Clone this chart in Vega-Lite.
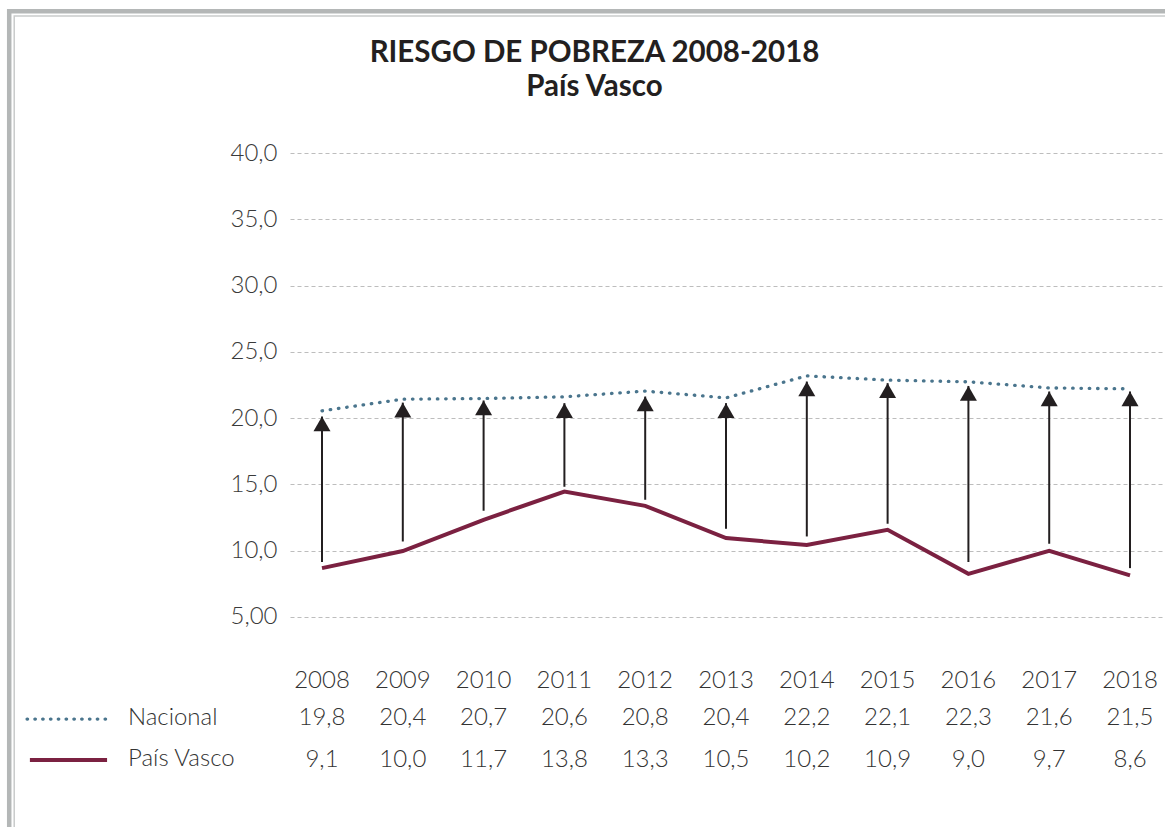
{
  "$schema": "https://vega.github.io/schema/vega-lite/v6.json",
  "autosize": "none",
  "width": 875,
  "height": 636,
  "padding": {"left": 290, "top": 153, "right": 0, "bottom": 38},
  "background": "white",
  "title": {
    "text": ["RIESGO DE POBREZA 2008-2018", "País Vasco"],
    "anchor": "middle",
    "dx": -133,
    "offset": -93,
    "font": "Lato",
    "fontSize": 29.5,
    "fontWeight": "bold",
    "color": "#231f20",
    "lineHeight": 34
  },
  "config": {
    "view": {"stroke": null},
    "font": "Lato"
  },
  "data": {
    "values": [
      {"year": 2008, "nac": 20.54, "pv": 8.67, "a_from": 9.13, "a_to": 20.11, "nac_t": "19,8", "pv_t": "9,1"},
      {"year": 2009, "nac": 21.42, "pv": 9.96, "a_from": 10.68, "a_to": 21.16, "nac_t": "20,4", "pv_t": "10,0"},
      {"year": 2010, "nac": 21.47, "pv": 12.32, "a_from": 13.0, "a_to": 21.32, "nac_t": "20,7", "pv_t": "11,7"},
      {"year": 2011, "nac": 21.6, "pv": 14.45, "a_from": 14.81, "a_to": 21.12, "nac_t": "20,6", "pv_t": "13,8"},
      {"year": 2012, "nac": 22.03, "pv": 13.37, "a_from": 13.83, "a_to": 21.62, "nac_t": "20,8", "pv_t": "13,3"},
      {"year": 2013, "nac": 21.52, "pv": 10.94, "a_from": 11.64, "a_to": 21.12, "nac_t": "20,4", "pv_t": "10,5"},
      {"year": 2014, "nac": 23.18, "pv": 10.41, "a_from": 11.06, "a_to": 22.75, "nac_t": "22,2", "pv_t": "10,2"},
      {"year": 2015, "nac": 22.86, "pv": 11.56, "a_from": 12.02, "a_to": 22.63, "nac_t": "22,1", "pv_t": "10,9"},
      {"year": 2016, "nac": 22.73, "pv": 8.24, "a_from": 9.13, "a_to": 22.42, "nac_t": "22,3", "pv_t": "9,0"},
      {"year": 2017, "nac": 22.27, "pv": 9.98, "a_from": 10.51, "a_to": 22.0, "nac_t": "21,6", "pv_t": "9,7"},
      {"year": 2018, "nac": 22.2, "pv": 8.12, "a_from": 8.67, "a_to": 22.0, "nac_t": "21,5", "pv_t": "8,6"}
    ]
  },
  "layer": [
    {
      "transform": [{"filter": "datum.year == 2008"}],
      "mark": {"type": "rect", "fillOpacity": 0, "stroke": "#b4b7b7", "strokeWidth": 4.5, "clip": false},
      "encoding": {
        "x": {"datum": 2004.129, "type": "quantitative", "scale": {"domain": [2007.604, 2018.433], "nice": false, "zero": false}, "axis": null},
        "x2": {"datum": 2022},
        "y": {"datum": 50.69, "type": "quantitative", "scale": {"domain": [-8, 40], "nice": false, "zero": false},
          "axis": {
            "values": [5, 10, 15, 20, 25, 30, 35, 40],
            "title": null,
            "domain": false,
            "ticks": false,
            "labelPadding": 13,
            "labelFont": "Lato",
            "labelFontSize": 24,
            "labelFontWeight": 300,
            "labelColor": "#3a3a3a",
            "labelExpr": "datum.value == 5 ? '5,00' : replace(format(datum.value, '.1f'), '.', ',')",
            "grid": true,
            "gridColor": "#bdbdbd",
            "gridDash": [4, 3],
            "gridWidth": 1
          }
        },
        "y2": {"datum": -30}
      }
    },
    {
      "transform": [{"filter": "datum.year == 2008"}],
      "mark": {"type": "rect", "fillOpacity": 0, "stroke": "#c9cbcb", "strokeWidth": 1.5, "clip": false},
      "encoding": {
        "x": {"datum": 2004.191, "type": "quantitative"},
        "x2": {"datum": 2022},
        "y": {"datum": 50.34, "type": "quantitative"},
        "y2": {"datum": -30}
      }
    },
    {
      "mark": {"type": "line", "color": "#7b2141", "strokeWidth": 4},
      "encoding": {
        "x": {"field": "year", "type": "quantitative"},
        "y": {"field": "pv", "type": "quantitative"}
      }
    },
    {
      "mark": {"type": "line", "color": "#4a758d", "strokeWidth": 3.3, "strokeDash": [0.5, 7.8], "strokeCap": "round"},
      "encoding": {
        "x": {"field": "year", "type": "quantitative"},
        "y": {"field": "nac", "type": "quantitative"}
      }
    },
    {
      "mark": {"type": "rule", "color": "#231f20", "strokeWidth": 2},
      "encoding": {
        "x": {"field": "year", "type": "quantitative"},
        "y": {"field": "a_from", "type": "quantitative"},
        "y2": {"field": "a_to"}
      }
    },
    {
      "mark": {"type": "point", "shape": "triangle-up", "filled": true, "size": 289, "color": "#231f20", "opacity": 1, "yOffset": 7.4},
      "encoding": {
        "x": {"field": "year", "type": "quantitative"},
        "y": {"field": "a_to", "type": "quantitative"}
      }
    },
    {
      "mark": {"type": "text", "font": "Lato", "fontSize": 24, "fontWeight": 300, "color": "#333333", "baseline": "alphabetic", "align": "center"},
      "encoding": {
        "x": {"field": "year", "type": "quantitative"},
        "text": {"field": "year", "type": "nominal"},
        "y": {"datum": -0.38, "type": "quantitative"}
      }
    },
    {
      "mark": {"type": "text", "font": "Lato", "fontSize": 24, "fontWeight": 300, "color": "#333333", "baseline": "alphabetic", "align": "center"},
      "encoding": {
        "x": {"field": "year", "type": "quantitative"},
        "text": {"field": "nac_t", "type": "nominal"},
        "y": {"datum": -3.15, "type": "quantitative"}
      }
    },
    {
      "mark": {"type": "text", "font": "Lato", "fontSize": 24, "fontWeight": 300, "color": "#333333", "baseline": "alphabetic", "align": "center"},
      "encoding": {
        "x": {"field": "year", "type": "quantitative"},
        "text": {"field": "pv_t", "type": "nominal"},
        "y": {"datum": -6.34, "type": "quantitative"}
      }
    },
    {
      "transform": [{"filter": "datum.year == 2008"}],
      "mark": {"type": "rule", "color": "#4a758d", "strokeWidth": 3.3, "strokeDash": [0.5, 7.3], "strokeCap": "round", "clip": false},
      "encoding": {
        "x": {"datum": 2004.35, "type": "quantitative"},
        "x2": {"datum": 2005.37},
        "y": {"datum": -2.72, "type": "quantitative"}
      }
    },
    {
      "transform": [{"filter": "datum.year == 2008"}],
      "mark": {"type": "rule", "color": "#7b2141", "strokeWidth": 4, "clip": false},
      "encoding": {
        "x": {"datum": 2004.385, "type": "quantitative"},
        "x2": {"datum": 2005.34},
        "y": {"datum": -5.81, "type": "quantitative"}
      }
    },
    {
      "transform": [{"filter": "datum.year == 2008"}],
      "mark": {"type": "text", "text": "Nacional", "font": "Lato", "fontSize": 24, "fontWeight": 300, "color": "#333333", "baseline": "alphabetic", "align": "left", "clip": false},
      "encoding": {
        "x": {"datum": 2005.599, "type": "quantitative"},
        "y": {"datum": -3.15, "type": "quantitative"}
      }
    },
    {
      "transform": [{"filter": "datum.year == 2008"}],
      "mark": {"type": "text", "text": "País Vasco", "font": "Lato", "fontSize": 24, "fontWeight": 300, "color": "#333333", "baseline": "alphabetic", "align": "left", "clip": false},
      "encoding": {
        "x": {"datum": 2005.599, "type": "quantitative"},
        "y": {"datum": -6.26, "type": "quantitative"}
      }
    }
  ]
}
